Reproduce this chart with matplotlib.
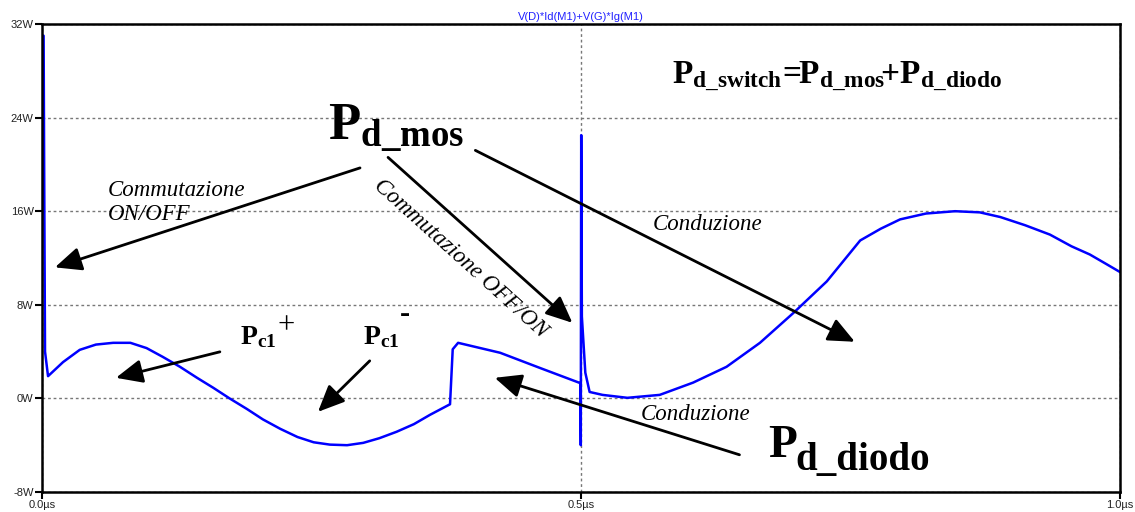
import matplotlib
matplotlib.use('Agg')
import matplotlib.pyplot as plt

# Potenza dissipata dallo switch (tempo in us, potenza in W)
t_us = [0.0, 0.0015, 0.002, 0.0028, 0.0056, 0.0195, 0.035, 0.050, 0.066, 0.082,
        0.097, 0.112, 0.128, 0.144, 0.159, 0.174, 0.190, 0.205, 0.221, 0.237,
        0.252, 0.267, 0.283, 0.298, 0.313, 0.329, 0.345, 0.360, 0.3785, 0.381,
        0.386, 0.425, 0.462, 0.4995, 0.4998, 0.5002, 0.5008, 0.504, 0.508, 0.520,
        0.543, 0.573, 0.604, 0.635, 0.666, 0.697, 0.728, 0.759, 0.778, 0.796,
        0.820, 0.847, 0.870, 0.889, 0.912, 0.935, 0.955, 0.972, 0.987, 1.0]
p_w = [31.0, 31.0, 20.0, 4.0, 1.9, 3.1, 4.15, 4.6, 4.75, 4.75,
       4.3, 3.55, 2.7, 1.75, 0.9, 0.0, -0.9, -1.8, -2.6, -3.3,
       -3.75, -3.95, -4.0, -3.8, -3.4, -2.85, -2.2, -1.4, -0.5, 4.2,
       4.75, 3.9, 2.6, 1.3, -4.0, 22.5, 7.0, 2.2, 0.55, 0.3,
       0.05, 0.3, 1.35, 2.7, 4.75, 7.3, 10.0, 13.5, 14.5, 15.3,
       15.8, 16.0, 15.9, 15.5, 14.8, 14.0, 13.0, 12.3, 11.5, 10.8]

y_ticks = [-8, 0, 8, 16, 24, 32]
y_labels = ['-8W', '0W', '8W', '16W', '24W', '32W']
x_ticks = [0.0, 0.5, 1.0]
x_labels = ['0.0µs', '0.5µs', '1.0µs']
trace_name = 'V(D)*Id(M1)+V(G)*Ig(M1)'

plt.rcParams['mathtext.fontset'] = 'custom'
plt.rcParams['mathtext.rm'] = 'Liberation Serif'
plt.rcParams['mathtext.bf'] = 'Liberation Serif:bold'
plt.rcParams['mathtext.it'] = 'Liberation Serif:italic'

fig = plt.figure(figsize=(11.35, 5.12), dpi=100)
ax = fig.add_axes([42 / 1135, 20 / 512, 1078 / 1135, 468 / 512])

ax.plot(t_us, p_w, color='#0000ff', lw=1.8, solid_joinstyle='round')

ax.set_xlim(0, 1)
ax.set_ylim(-8, 32)
ax.set_yticks(y_ticks)
ax.set_yticklabels(y_labels)
ax.set_xticks(x_ticks)
ax.set_xticklabels(x_labels)
ax.grid(True, color='#777777', linestyle=(0, (2, 2)), lw=1)
for s in ax.spines.values():
    s.set_linewidth(1.8)
ax.tick_params(direction='out', length=5, width=1.5, labelsize=8,
               labelcolor='#222222', pad=1)
for lab in ax.get_xticklabels() + ax.get_yticklabels():
    lab.set_family('Liberation Sans')

ax.set_title(trace_name, color='#2020ff', fontsize=8, family='Liberation Sans', pad=3)

serif = 'Liberation Serif'

# etichette
ax.text(0.5844, 26.97,
        r'$\mathbf{P_{d\_switch}}\!\mathbf{=}\!\!\mathbf{P_{d\_mos}}\!\mathbf{+}\mathbf{P_{d\_diodo}}$',
        fontsize=24, ha='left', va='baseline')
ax.text(0.2653, 22.1, r'$\mathbf{P_{d\_mos}}$', fontsize=38, ha='left', va='baseline')
ax.text(0.6735, -4.98, 'P', fontsize=34, family=serif, fontweight='bold',
        ha='left', va='baseline')
ax.text(0.6985, -6.10, 'd_diodo', fontsize=28, family=serif, fontweight='bold',
        ha='left', va='baseline')

ax.text(0.1837, 4.6, r'$\mathbf{P_{c1}}$', fontsize=20, ha='left', va='baseline')
ax.text(0.2267, 6.2, '+', fontsize=22, family=serif, ha='center', va='center')
ax.text(0.2978, 4.6, r'$\mathbf{P_{c1}}$', fontsize=20, ha='left', va='baseline')
ax.text(0.3367, 7.2, '-', fontsize=22, family=serif, fontweight='bold',
        ha='center', va='center')

ax.text(0.0612, 15.26, 'Commutazione\nON/OFF', fontsize=16.5, family=serif,
        style='italic', ha='left', va='baseline', linespacing=1.2)
ax.text(0.388, 12.0, 'Commutazione OFF/ON', fontsize=16.5, family=serif,
        style='italic', rotation=-42, rotation_mode='anchor', ha='center', va='center')
ax.text(0.6178, 14.4, 'Conduzione', fontsize=16.5, family=serif, style='italic',
        ha='center', va='baseline')
ax.text(0.6058, -1.83, 'Conduzione', fontsize=16.5, family=serif, style='italic',
        ha='center', va='baseline')

# frecce
arrows = [
    ((0.295, 19.7), (0.012, 11.2)),
    ((0.321, 20.6), (0.492, 6.46)),
    ((0.402, 21.2), (0.754, 4.84)),
    ((0.165, 3.98), (0.0686, 1.76)),
    ((0.304, 3.21), (0.256, -1.15)),
    ((0.647, -4.82), (0.420, 1.76)),
]
for start, end in arrows:
    ax.annotate('', xy=end, xytext=start,
                arrowprops=dict(arrowstyle='-|>,head_length=0.9,head_width=0.4',
                                mutation_scale=18, lw=2, color='black',
                                shrinkA=0, shrinkB=0))

fig.savefig('out.png', dpi=100)
